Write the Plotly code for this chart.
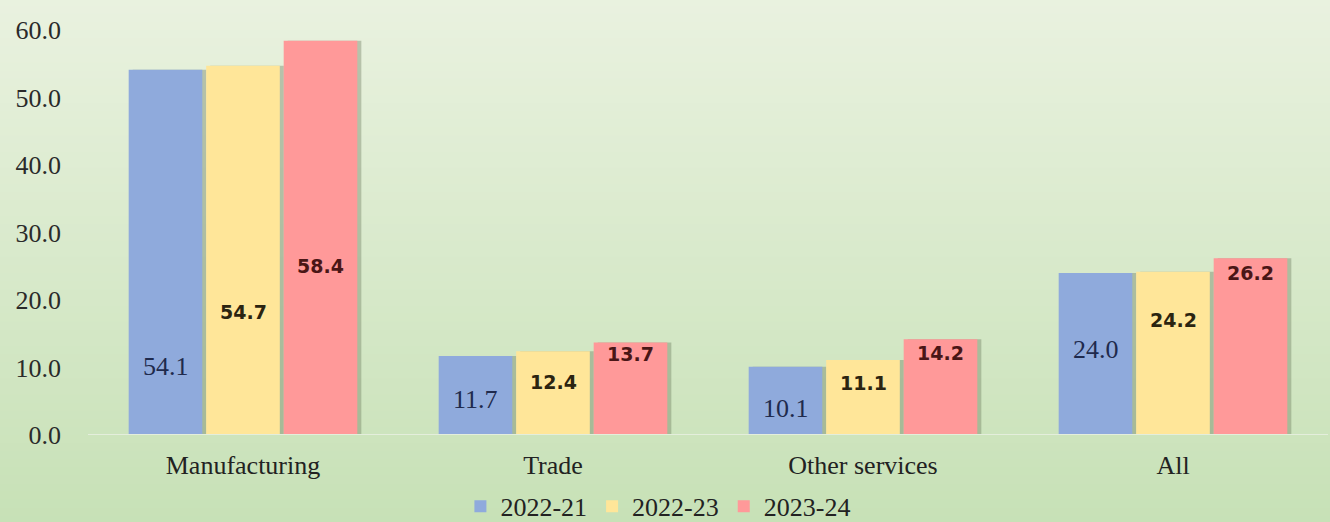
import plotly.graph_objects as go

categories = ["Manufacturing", "Trade", "Other services", "All"]
series_names = ["2022-21", "2022-23", "2023-24"]
v_2022_21 = [54.1, 11.7, 10.1, 24.0]
v_2022_23 = [54.7, 12.4, 11.1, 24.2]
v_2023_24 = [58.4, 13.7, 14.2, 26.2]
y_ticks = [0, 10, 20, 30, 40, 50, 60]
# label anchor heights (data units) as placed in the source chart
label_y_2022_21 = [10.1, 5.2, 4.0, 12.6]
label_y_2022_23 = [18.2, 7.9, 7.7, 17.0]
label_y_2023_24 = [25.0, 12.0, 12.1, 24.0]

colors = ["#8faadc", "#ffe699", "#ff9999"]
values = [v_2022_21, v_2022_23, v_2023_24]
label_ys = [label_y_2022_21, label_y_2022_23, label_y_2023_24]
label_fonts = [
    dict(family="Liberation Serif", size=26, color="#1f2a4d"),
    dict(family="DejaVu Sans", size=19, color="#2b2410", weight="bold"),
    dict(family="DejaVu Sans", size=19, color="#4a1616", weight="bold"),
]

gw = 0.75          # group width (category units)
bw = gw / 3        # slot per series
fill = 0.95        # bar fraction of slot
shadow_dx = 0.013

fig = go.Figure()
# soft shadows first
for i, vals in enumerate(values):
    off = -gw / 2 + bw * i + bw * (1 - fill) / 2
    fig.add_trace(go.Bar(
        x=categories, y=vals, showlegend=False, hoverinfo="skip",
        offset=off + shadow_dx, width=bw * fill,
        marker=dict(color="rgba(95,110,80,0.35)", line=dict(width=0)),
    ))
for i, (name, vals) in enumerate(zip(series_names, values)):
    off = -gw / 2 + bw * i + bw * (1 - fill) / 2
    fig.add_trace(go.Bar(
        x=categories, y=vals, name=name,
        offset=off, width=bw * fill,
        marker=dict(color=colors[i], line=dict(width=0)),
    ))

# gradient background
n = 70
top = (234, 242, 224)
bot = (197, 224, 180)
shapes = []
y_hi, y_lo = 1.1, -0.3
for k in range(n):
    t = k / (n - 1)
    c = tuple(int(round(top[j] + (bot[j] - top[j]) * t)) for j in range(3))
    step = (y_hi - y_lo) / n
    shapes.append(dict(type="rect", xref="paper", yref="paper",
                       x0=-0.1, x1=1.1, y0=y_hi - (k + 1) * step - 0.002, y1=y_hi - k * step,
                       fillcolor="rgb(%d,%d,%d)" % c, line=dict(width=0), layer="below"))
# zero line
shapes.append(dict(type="line", xref="paper", yref="y", x0=0, x1=1, y0=0, y1=0,
                   line=dict(color="#e4eedc", width=2)))

annotations = []
for i in range(3):
    for c in range(len(categories)):
        xpos = c - gw / 2 + bw * (i + 0.5)
        annotations.append(dict(x=xpos, y=label_ys[i][c], xref="x", yref="y",
                                text="%.1f" % values[i][c], showarrow=False,
                                font=label_fonts[i]))

fig.update_layout(
    width=1330, height=522,
    margin=dict(l=88, r=2, t=30, b=87),
    paper_bgcolor="#c8e1b8", plot_bgcolor="rgba(0,0,0,0)",
    barmode="overlay",
    shapes=shapes, annotations=annotations,
    font=dict(family="Liberation Serif", size=24, color="#2a2a2a"),
    legend=dict(orientation="h", x=0.46, xanchor="center",
                yref="container", y=0.03, yanchor="middle",
                font=dict(family="Liberation Serif", size=26, color="#222222",
                          weight="normal", style="normal", variant="normal"),
                bgcolor="rgba(0,0,0,0)", itemwidth=30, traceorder="normal"),
    xaxis=dict(showgrid=False, showline=False, zeroline=False, ticks="",
               tickfont=dict(family="Liberation Serif", size=26, color="#222222"),
               ticklabelstandoff=12, automargin=False,
               range=[-0.5, 3.5]),
    yaxis=dict(range=[0, 60], tickvals=y_ticks, ticktext=["%.1f" % v for v in y_ticks],
               showgrid=False, zeroline=False, showline=False, ticks="",
               ticklabelstandoff=26, automargin=False,
               tickfont=dict(family="Liberation Serif", size=26, color="#2a2a2a")),
)
for tr in fig.data:
    tr.legendgrouptitle = None

fig.write_html("out.html")
